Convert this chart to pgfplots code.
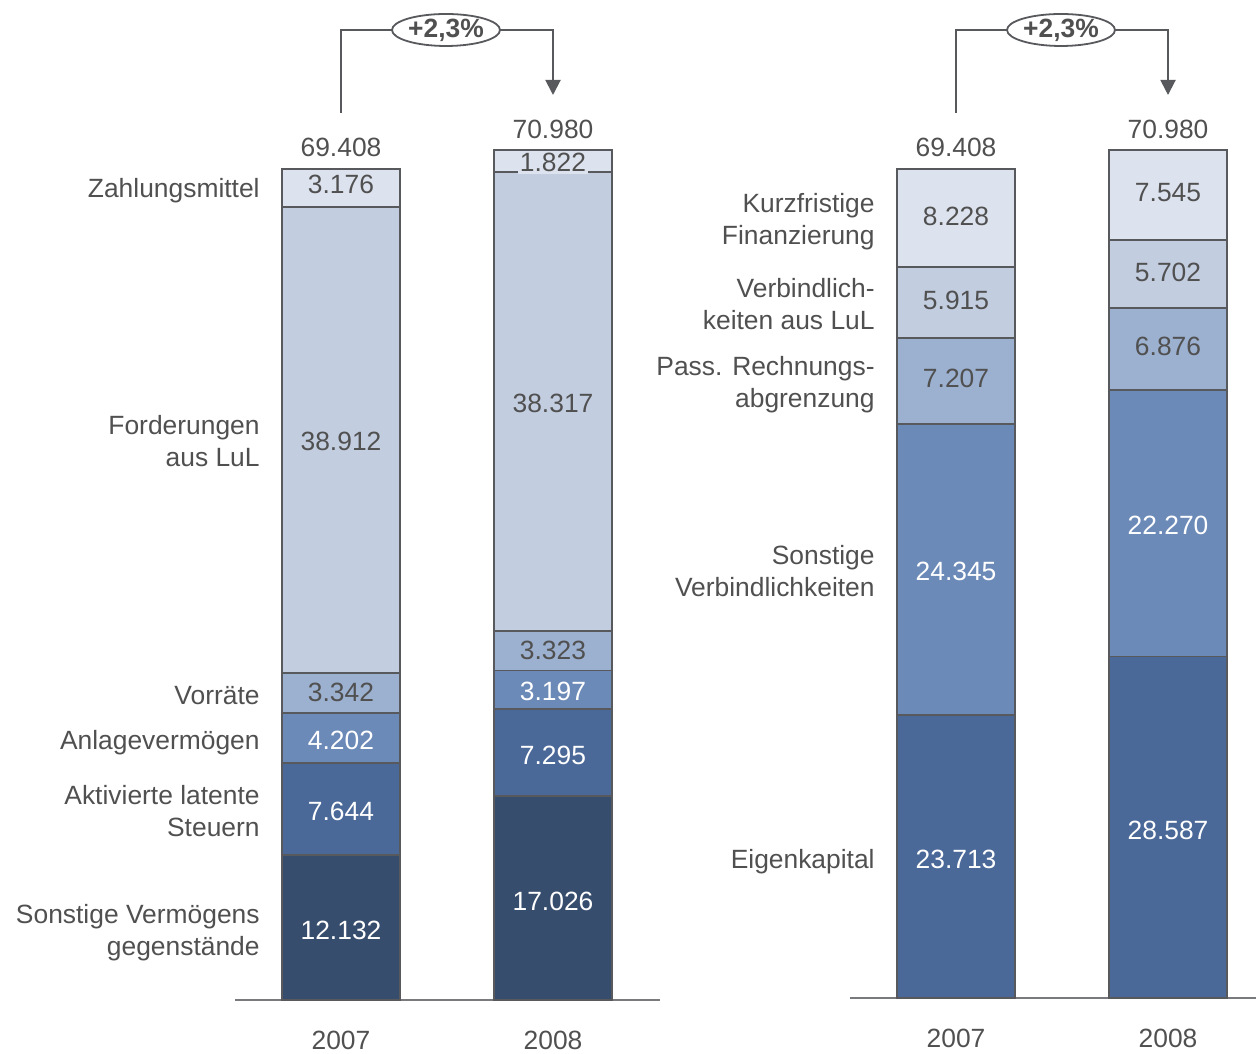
\documentclass[border=0pt]{standalone}
\usepackage{pgfplots}
\pgfplotsset{compat=1.18}
\usepackage{fontspec}
\setmainfont{Liberation Sans}
\usetikzlibrary{shapes.geometric,arrows.meta}
\definecolor{cA}{HTML}{374D6D}
\definecolor{cB}{HTML}{4A6898}
\definecolor{cC}{HTML}{6C8AB8}
\definecolor{cD}{HTML}{9CB0CF}
\definecolor{cE}{HTML}{C2CDE0}
\definecolor{cF}{HTML}{DDE3EE}
\definecolor{txt}{HTML}{505050}
\definecolor{edge}{HTML}{58595D}
\tikzset{
  lab/.style={text=txt, font=\fontsize{13.2}{16}\selectfont},
  wlab/.style={text=white, font=\fontsize{13.2}{16}\selectfont},
}
\pgfplotsset{
  mybars/.style={
    scale only axis, clip=false,
    ybar stacked, bar width=59pt, bar shift=0pt,
    ymin=0, ymax=70980,
    axis x line*=bottom, axis y line=none,
    x axis line style={-, draw=edge!80, line width=1pt},
    xtick style={draw=none},
    xticklabel style={anchor=center, text=txt, font=\fontsize{13.2}{16}\selectfont},
    every axis plot/.append style={draw=edge, line width=0.9pt},
    /pgf/number format/assume math mode=true,
  },
}
\begin{document}
\begin{tikzpicture}
\useasboundingbox (0,0) rectangle (628pt,526.5pt);
% ---------- left chart ----------
\begin{axis}[mybars, at={(117.5pt,26.5pt)}, anchor=south west,
  width=212.5pt, height=425pt, xmin=235, xmax=660,
  xtick={341,553}, xticklabels={2007,2008},
  xticklabel style={yshift=-20pt}]
\addplot[fill=cA] coordinates {(341,12132) (553,17026)};
\addplot[fill=cB] coordinates {(341,7644) (553,7295)};
\addplot[fill=cC] coordinates {(341,4202) (553,3197)};
\addplot[fill=cD] coordinates {(341,3342) (553,3323)};
\addplot[fill=cE] coordinates {(341,38912) (553,38317)};
\addplot[fill=cF] coordinates {(341,3176) (553,1822)};
\coordinate (L1) at (axis cs:341,6066);
\coordinate (L2) at (axis cs:341,15954);
\coordinate (L3) at (axis cs:341,21877);
\coordinate (L4) at (axis cs:341,25649);
\coordinate (L5) at (axis cs:341,46776);
\coordinate (L6) at (axis cs:341,67820);
\coordinate (L7) at (axis cs:341,69408);
\coordinate (M1) at (axis cs:553,8513);
\coordinate (M2) at (axis cs:553,20673);
\coordinate (M3) at (axis cs:553,25919);
\coordinate (M4) at (axis cs:553,29179);
\coordinate (M5) at (axis cs:553,49999);
\coordinate (M6) at (axis cs:553,70069);
\coordinate (M7) at (axis cs:553,70980);
\end{axis}
\node[wlab, yshift=-1.5pt] at (L1) {12.132};
\node[wlab, yshift=-1pt] at (L2) {7.644};
\node[wlab, yshift=-1pt] at (L3) {4.202};
\node[lab] at (L4) {3.342};
\node[lab, yshift=-1pt] at (L5) {38.912};
\node[lab, yshift=1.5pt] at (L6) {3.176};
\node[lab, yshift=10.5pt] at (L7) {69.408};
\node[wlab, yshift=-1.5pt] at (M1) {17.026};
\node[wlab, yshift=-1.5pt] at (M2) {7.295};
\node[wlab, yshift=-1pt] at (M3) {3.197};
\node[lab] at (M4) {3.323};
\node[lab, yshift=-1pt] at (M5) {38.317};
\node[lab, fill=cF, inner sep=1pt, yshift=-1pt] at (M6) {1.822};
\node[lab, yshift=10.5pt] at (M7) {70.980};
% ---------- right chart ----------
\begin{axis}[mybars, at={(425pt,27.5pt)}, anchor=south west,
  width=203pt, height=424pt, xmin=850, xmax=1256,
  xtick={956,1168}, xticklabels={2007,2008},
  xticklabel style={yshift=-20pt}]
\addplot[fill=cB] coordinates {(956,23713) (1168,28587)};
\addplot[fill=cC] coordinates {(956,24345) (1168,22270)};
\addplot[fill=cD] coordinates {(956,7207) (1168,6876)};
\addplot[fill=cE] coordinates {(956,5915) (1168,5702)};
\addplot[fill=cF] coordinates {(956,8228) (1168,7545)};
\coordinate (R1) at (axis cs:956,11856);
\coordinate (R2) at (axis cs:956,35885);
\coordinate (R3) at (axis cs:956,51661);
\coordinate (R4) at (axis cs:956,58222);
\coordinate (R5) at (axis cs:956,65294);
\coordinate (R6) at (axis cs:956,69408);
\coordinate (S1) at (axis cs:1168,14293);
\coordinate (S2) at (axis cs:1168,39722);
\coordinate (S3) at (axis cs:1168,54295);
\coordinate (S4) at (axis cs:1168,60584);
\coordinate (S5) at (axis cs:1168,67207);
\coordinate (S6) at (axis cs:1168,70980);
\end{axis}
\node[wlab, yshift=-1.5pt] at (R1) {23.713};
\node[wlab, yshift=-1pt] at (R2) {24.345};
\node[lab, yshift=1pt] at (R3) {7.207};
\node[lab, yshift=1pt] at (R4) {5.915};
\node[lab, yshift=1pt] at (R5) {8.228};
\node[lab, yshift=10.5pt] at (R6) {69.408};
\node[wlab, yshift=-1.5pt] at (S1) {28.587};
\node[wlab, yshift=-1pt] at (S2) {22.270};
\node[lab, yshift=1.5pt] at (S3) {6.876};
\node[lab, yshift=1pt] at (S4) {5.702};
\node[lab, yshift=1.5pt] at (S5) {7.545};
\node[lab, yshift=10.5pt] at (S6) {70.980};
% ---------- category labels ----------
\begin{scope}[yshift=-1.5pt, every node/.style={lab, anchor=east, align=right, inner sep=0pt}]
\node at (130pt,432.5pt) {Zahlungsmittel};
\node at (130pt,307.5pt) {Forderungen\\aus LuL};
\node at (130pt,180pt) {Vorräte};
\node at (130pt,156.5pt) {Anlagevermögen};
\node at (130pt,122.5pt) {Aktivierte latente\\Steuern};
\node at (130pt,61.5pt) {Sonstige Vermögens\\gegenstände};
\node at (437.5pt,417pt) {Kurzfristige\\Finanzierung};
\node at (437.5pt,376pt) {Verbindlich-\\keiten aus LuL};
\node at (437.5pt,335.5pt) {Pass. Rechnungs-\\abgrenzung};
\node at (437.5pt,242.5pt) {Sonstige\\Verbindlichkeiten};
\node at (437.5pt,97pt) {Eigenkapital};
\end{scope}
% ---------- growth annotations ----------
\begin{scope}[draw=edge, line width=1pt]
\draw (170.5pt,470pt) -- (170.5pt,511.5pt) -- (276.5pt,511.5pt)
  -- (276.5pt,479pt) [-{Triangle[width=7.5pt,length=7.5pt]}];
\node[ellipse, draw=edge, line width=0.9pt, fill=white, minimum width=54pt, minimum height=16pt, inner sep=0pt, text=txt, font=\fontsize{13.2}{16}\selectfont\bfseries] at (223pt,511.5pt) {+2,3\%};
\draw (478pt,470pt) -- (478pt,511.5pt) -- (584pt,511.5pt)
  -- (584pt,479pt) [-{Triangle[width=7.5pt,length=7.5pt]}];
\node[ellipse, draw=edge, line width=0.9pt, fill=white, minimum width=54pt, minimum height=16pt, inner sep=0pt, text=txt, font=\fontsize{13.2}{16}\selectfont\bfseries] at (530.5pt,511.5pt) {+2,3\%};
\end{scope}
\end{tikzpicture}
\end{document}
